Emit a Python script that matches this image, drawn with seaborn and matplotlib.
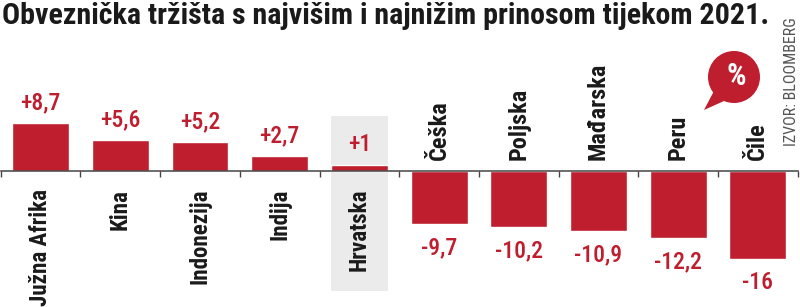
import matplotlib
matplotlib.use("Agg")
import logging
logging.getLogger("matplotlib.font_manager").setLevel(logging.ERROR)
import matplotlib.pyplot as plt
import seaborn as sns
import pandas as pd
import numpy as np
from matplotlib.patches import Circle, Polygon, Rectangle

# ---- data ----
categories = ["Južna Afrika", "Kina", "Indonezija", "Indija", "Hrvatska",
              "Češka", "Poljska", "Mađarska", "Peru", "Čile"]
values = [8.7, 5.6, 5.2, 2.7, 1.0, -9.7, -10.2, -10.9, -12.2, -16.0]
value_labels = ["+8,7", "+5,6", "+5,2", "+2,7", "+1",
                "-9,7", "-10,2", "-10,9", "-12,2", "-16"]
highlight = "Hrvatska"
title = "Obveznička tržišta s najvišim i najnižim prinosom tijekom 2021."
source = "IZVOR: BLOOMBERG"

RED = "#be1e2d"
FONT = ["Roboto Condensed", "Fira Sans Condensed", "IBM Plex Sans Condensed",
        "DejaVu Sans"]

sns.set_theme(style="white")
plt.rcParams["font.family"] = FONT

df = pd.DataFrame({"country": categories, "value": values})

fig = plt.figure(figsize=(8.0, 3.07), dpi=100)
ax = fig.add_axes([0.001, 0.0, 0.996, 1.0])
ax.set_facecolor("none")

BW = 0.715
sns.barplot(data=df, x="country", y="value", order=categories, color=RED,
            saturation=1, width=BW, ax=ax, zorder=3)

ax.set_xlim(-0.5, len(categories) - 0.5)
ax.set_ylim(-24.8, 31.0)

# highlight box behind Hrvatska
hi = categories.index(highlight)
ax.add_patch(Rectangle((hi - BW / 2, -21.9), BW, 31.8, facecolor="#ebebeb",
                       edgecolor="none", zorder=1))

# axis
for s in ["top", "right", "left"]:
    ax.spines[s].set_visible(False)
ax.spines["bottom"].set_position(("data", 0))
ax.spines["bottom"].set_color("#444444")
ax.spines["bottom"].set_linewidth(1.1)
ax.spines["bottom"].set_zorder(4)
ax.set_xticks(np.arange(len(categories)))
ax.set_xticklabels([])
ax.tick_params(axis="x", which="major", length=0)
ax.set_xticks(np.arange(len(categories) + 1) - 0.5, minor=True)
ax.tick_params(axis="x", which="minor", length=4, width=1.0, color="#444444",
               direction="out", bottom=True)
ax.set_yticks([])
ax.set_xlabel("")
ax.set_ylabel("")

for i, (cat, v, lab) in enumerate(zip(categories, values, value_labels)):
    if v >= 0:
        ax.annotate(lab, (i, v), xytext=(0, 10), textcoords="offset points",
                    ha="center", va="baseline", color=RED, fontsize=17,
                    fontweight="medium", zorder=5)
        ax.annotate(cat, (i, 0), xytext=(0, -13.2), textcoords="offset points",
                    ha="center", va="top", rotation=90, color="#1a1a1a",
                    fontsize=16.6, fontweight="bold", zorder=5)
    else:
        ax.annotate(lab, (i, v), xytext=(0, -9), textcoords="offset points",
                    ha="center", va="top", color=RED, fontsize=17,
                    fontweight="medium", zorder=5)
        ax.annotate(cat, (i, 0), xytext=(0, 7.6), textcoords="offset points",
                    ha="center", va="bottom", rotation=90, color="#1a1a1a",
                    fontsize=17.5, fontweight="bold", zorder=5)

# overlay in pixel coordinates for decorations
ov = fig.add_axes([0, 0, 1, 1], facecolor="none")
ov.set_xlim(0, 800)
ov.set_ylim(307, 0)
ov.axis("off")

ov.text(1.5, 24, title, ha="left", va="baseline", fontsize=21.6,
        fontweight="bold", color="#1a1a1a")
ov.text(792, 17, source, ha="center", va="top", rotation=90, fontsize=11.5,
        fontweight="normal", color="#555555")

ov.add_patch(Polygon([(714, 91), (724, 101), (704, 110)], closed=True,
                     facecolor=RED, edgecolor="none"))
ov.add_patch(Circle((734, 77), 26, facecolor=RED, edgecolor="none"))
ov.text(736, 76, "%", ha="center", va="center", fontsize=22,
        fontweight="bold", color="white")

fig.savefig("out.png", dpi=100)
